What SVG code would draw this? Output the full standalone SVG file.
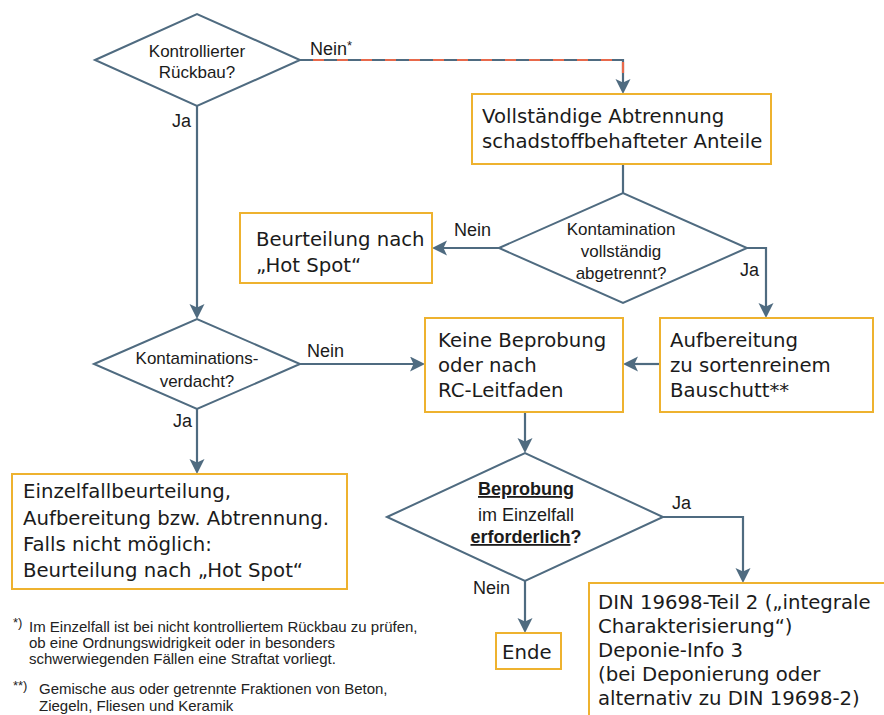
<svg xmlns="http://www.w3.org/2000/svg" width="884" height="715" viewBox="0 0 884 715">
<defs>
<style>
.box{fill:#ffffff;stroke:#eeb22f;stroke-width:2}
.dia{fill:#ffffff;stroke:#4f6b80;stroke-width:2}
.t{font-family:"DejaVu Sans","Liberation Sans",sans-serif;font-size:19.7px;fill:#1b1b1b}
.d{font-family:"Liberation Sans",Arial,sans-serif;font-size:17px;fill:#1b1b1b;text-anchor:middle}
.d4{font-family:"Liberation Sans",Arial,sans-serif;font-size:18px;fill:#1b1b1b;text-anchor:middle}
.b{font-weight:bold;text-decoration:underline}
.l{font-family:"Liberation Sans",Arial,sans-serif;font-size:18px;fill:#1b1b1b}
.fn{font-family:"Liberation Sans",Arial,sans-serif;font-size:15px;fill:#222222}
.sup{font-family:"Liberation Sans",Arial,sans-serif;font-size:13px;fill:#222222}
.c{fill:none;stroke:#4f6b80;stroke-width:2.2}
.dash{fill:none;stroke:#e8694b;stroke-width:2.2;stroke-dasharray:11 13;stroke-dashoffset:11}
</style>
<marker id="ah" markerUnits="userSpaceOnUse" markerWidth="16" markerHeight="16" refX="7" refY="7.5" orient="auto">
<path d="M0,0 L15,7.5 L0,15 L3.5,7.5 z" fill="#4f6b80"/>
</marker>
</defs>
<rect x="0" y="0" width="884" height="715" fill="#ffffff"/>

<g id="connectors">
<path class="c" d="M197,106 V311" marker-end="url(#ah)"/>
<path class="c" d="M300,60 H623 V86" marker-end="url(#ah)"/>
<path class="dash" d="M300,60 H623 V80"/>
<path class="c" d="M623,164 V193"/>
<path class="c" d="M499,248 H440" marker-end="url(#ah)"/>
<path class="c" d="M747,248 H766 V310" marker-end="url(#ah)"/>
<path class="c" d="M300,364 H417" marker-end="url(#ah)"/>
<path class="c" d="M660,364 H631" marker-end="url(#ah)"/>
<path class="c" d="M197,409 V466" marker-end="url(#ah)"/>
<path class="c" d="M525,412 V445" marker-end="url(#ah)"/>
<path class="c" d="M663,517 H743 V575" marker-end="url(#ah)"/>
<path class="c" d="M525,581 V625" marker-end="url(#ah)"/>
</g>

<g id="labels">
<text class="l" x="310" y="55">Nein<tspan font-size="13" dy="-5">*</tspan></text>
<text class="l" x="172" y="127">Ja</text>
<text class="l" x="454" y="236">Nein</text>
<text class="l" x="740" y="276">Ja</text>
<text class="l" x="307" y="357">Nein</text>
<text class="l" x="173" y="427">Ja</text>
<text class="l" x="672" y="509">Ja</text>
<text class="l" x="473" y="594">Nein</text>
</g>

<g id="d1">
<polygon class="dia" points="95,60 197,14 300,60 197,106"/>
<text class="d" x="197" y="57">Kontrollierter</text>
<text class="d" x="197" y="78">Rückbau?</text>
</g>

<g id="n-abtrennung">
<rect class="box" x="472" y="94" width="299" height="70"/>
<text class="t" x="482" y="123">Vollständige Abtrennung</text>
<text class="t" x="482" y="148">schadstoffbehafteter Anteile</text>
</g>

<g id="d2">
<polygon class="dia" points="499,248 623,193 747,248 623,303"/>
<text class="d" x="621" y="235">Kontamination</text>
<text class="d" x="621" y="257">vollständig</text>
<text class="d" x="621" y="279">abgetrennt?</text>
</g>

<g id="n-hotspot">
<rect class="box" x="240" y="213" width="192" height="70"/>
<text class="t" x="256" y="246">Beurteilung nach</text>
<text class="t" x="256" y="272">„Hot Spot“</text>
</g>

<g id="d3">
<polygon class="dia" points="94,364 197,319 300,364 197,409"/>
<text class="d" x="197" y="364">Kontaminations-</text>
<text class="d" x="197" y="387">verdacht?</text>
</g>

<g id="n-keine">
<rect class="box" x="425" y="318" width="198" height="94"/>
<text class="t" x="438" y="347">Keine Beprobung</text>
<text class="t" x="438" y="372">oder nach</text>
<text class="t" x="438" y="397">RC-Leitfaden</text>
</g>

<g id="n-aufbereitung">
<rect class="box" x="660" y="318" width="213" height="94"/>
<text class="t" x="670" y="347">Aufbereitung</text>
<text class="t" x="670" y="372">zu sortenreinem</text>
<text class="t" x="670" y="397">Bauschutt**</text>
</g>

<g id="n-einzelfall">
<rect class="box" x="12" y="474" width="335" height="115"/>
<text class="t" x="23" y="498">Einzelfallbeurteilung,</text>
<text class="t" x="23" y="525">Aufbereitung bzw. Abtrennung.</text>
<text class="t" x="23" y="551">Falls nicht möglich:</text>
<text class="t" x="23" y="577">Beurteilung nach „Hot Spot“</text>
</g>

<g id="d4">
<polygon class="dia" points="387,517 525,453 663,517 525,581"/>
<text class="d4" x="526" y="495"><tspan class="b">Beprobung</tspan></text>
<text class="d4" x="526" y="521">im Einzelfall</text>
<text class="d4" x="526" y="543"><tspan class="b">erforderlich</tspan><tspan font-weight="bold">?</tspan></text>
</g>

<g id="n-ende">
<rect class="box" x="496" y="633" width="65" height="36"/>
<text class="t" x="502" y="659">Ende</text>
</g>

<g id="n-din">
<rect class="box" x="589" y="583" width="330" height="170"/>
<text class="t" x="598" y="609">DIN 19698-Teil 2 („integrale</text>
<text class="t" x="598" y="633">Charakterisierung“)</text>
<text class="t" x="598" y="657">Deponie-Info 3</text>
<text class="t" x="598" y="681">(bei Deponierung oder</text>
<text class="t" x="598" y="705">alternativ zu DIN 19698-2)</text>
</g>

<g id="footnotes">
<text class="sup" x="13" y="627">*)</text>
<text class="fn" x="29" y="632">Im Einzelfall ist bei nicht kontrolliertem Rückbau zu prüfen,</text>
<text class="fn" x="29" y="648">ob eine Ordnungswidrigkeit oder in besonders</text>
<text class="fn" x="29" y="664">schwerwiegenden Fällen eine Straftat vorliegt.</text>
<text class="sup" x="13" y="690">**)</text>
<text class="fn" x="39" y="694">Gemische aus oder getrennte Fraktionen von Beton,</text>
<text class="fn" x="39" y="711">Ziegeln, Fliesen und Keramik</text>
</g>
</svg>
